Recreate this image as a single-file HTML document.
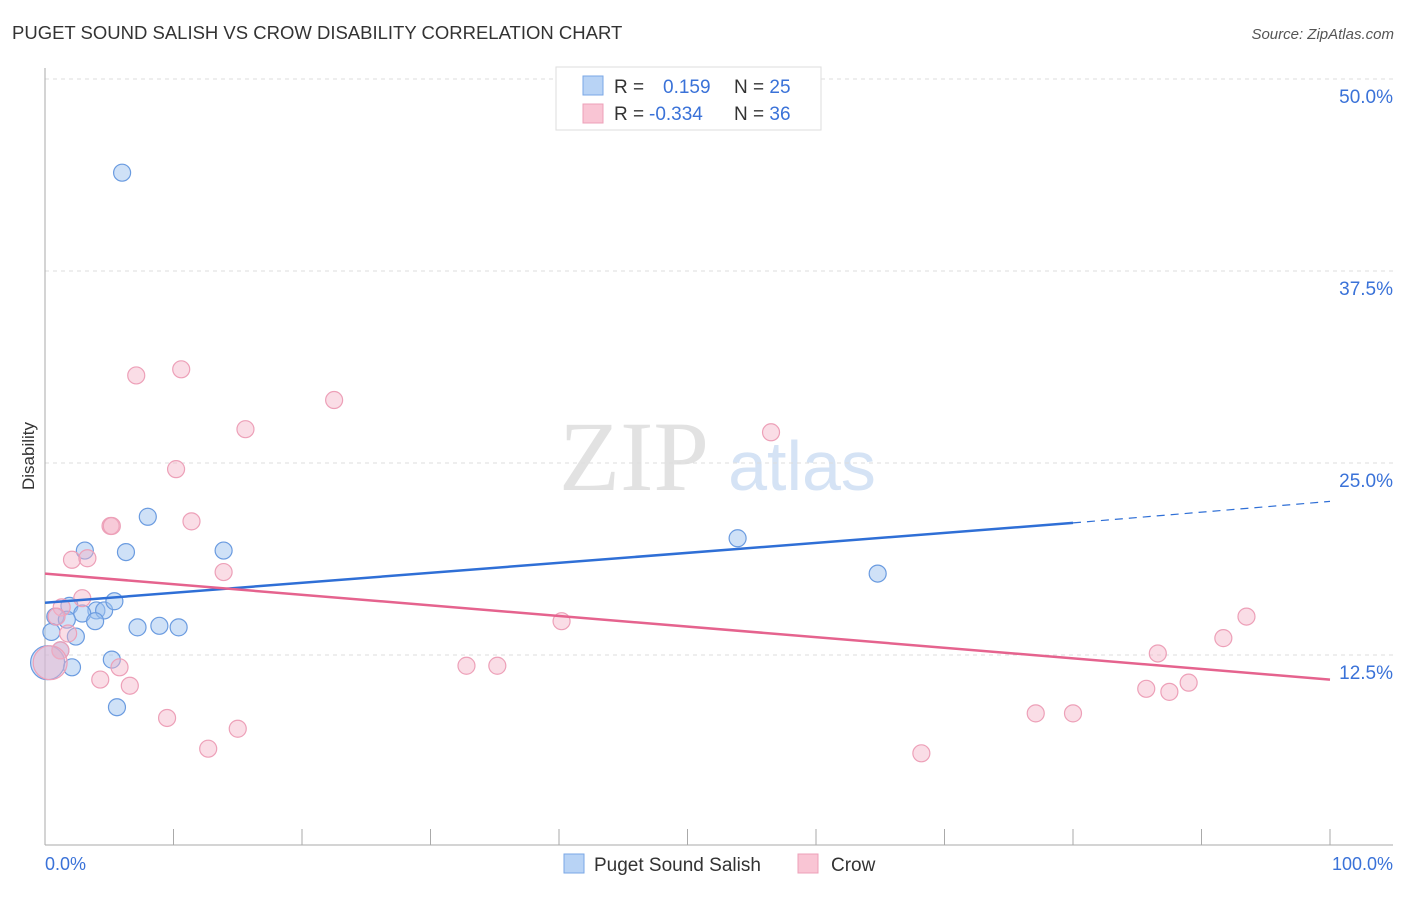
<!DOCTYPE html>
<html><head><meta charset="utf-8"><style>
body{margin:0;background:#fff;font-family:"Liberation Sans",sans-serif}
svg text{font-family:"Liberation Sans",sans-serif}
</style></head><body>
<svg id="c" width="1406" height="892">
<text x="12" y="39" font-size="18.5" fill="#333">PUGET SOUND SALISH VS CROW DISABILITY CORRELATION CHART</text>
<text x="1394" y="39" font-size="15" fill="#555" text-anchor="end" font-style="italic">Source: ZipAtlas.com</text>
<text x="34" y="456" font-size="17" fill="#333" text-anchor="middle" transform="rotate(-90 34 456)">Disability</text>
<text x="634" y="490" font-size="100" fill="#e2e2e2" text-anchor="middle" style="font-family:'Liberation Serif',serif">ZIP</text>
<text x="802" y="490" font-size="70" fill="#d5e3f5" text-anchor="middle">atlas</text>
<g id="grid"></g><g id="pts"></g><g id="lines"></g>
<g>
<rect x="556" y="67" width="265" height="63" fill="#fff" stroke="#ddd"/>
<rect x="583" y="76" width="20" height="19" fill="#b8d3f5" stroke="#7aa7e6"/>
<rect x="583" y="104" width="20" height="19" fill="#f9c5d4" stroke="#eda0b8"/>
<text x="614" y="93" font-size="19" fill="#333">R = <tspan fill="#3a72d8" x="663">0.159</tspan><tspan fill="#333" x="734">N = </tspan><tspan fill="#3a72d8">25</tspan></text>
<text x="614" y="120" font-size="19" fill="#333">R = <tspan fill="#3a72d8" x="649">-0.334</tspan><tspan fill="#333" x="734">N = </tspan><tspan fill="#3a72d8">36</tspan></text>
</g>
<g>
<rect x="564" y="854" width="20" height="19" fill="#b8d3f5" stroke="#7aa7e6"/>
<text x="594" y="871" font-size="19" fill="#333">Puget Sound Salish</text>
<rect x="798" y="854" width="20" height="19" fill="#f9c5d4" stroke="#eda0b8"/>
<text x="831" y="871" font-size="19" fill="#333">Crow</text>
</g>
<text x="45" y="870" font-size="18" fill="#3a72d8">0.0%</text>
<text x="1393" y="870" font-size="18" fill="#3a72d8" text-anchor="end">100.0%</text>
</svg>
<script>
const yTicks=[12.5,25,37.5,50];
const yTickLabels=["12.5%","25.0%","37.5%","50.0%"];
const blueX=[6.0,8.0,3.1,6.3,13.9,53.9,64.8,1.9,4.0,4.6,5.4,2.9,0.8,1.7,3.9,7.2,8.9,10.4,0.5,2.4,1.2,5.2,2.1,0.2,5.6];
const blueY=[43.9,21.5,19.3,19.2,19.3,20.1,17.8,15.7,15.4,15.4,16.0,15.2,15.0,14.8,14.7,14.3,14.4,14.3,14.0,13.7,12.8,12.2,11.7,12.0,9.1];
const pinkX=[7.1,10.6,22.5,15.6,56.5,10.2,5.1,5.2,11.4,2.1,3.3,13.9,2.9,1.3,0.9,40.2,93.5,91.7,86.6,1.2,5.8,32.8,35.2,4.3,6.6,85.7,87.5,89.0,9.5,15.0,12.7,77.1,80.0,68.2,0.4,1.8];
const pinkY=[30.7,31.1,29.1,27.2,27.0,24.6,20.9,20.9,21.2,18.7,18.8,17.9,16.2,15.6,15.0,14.7,15.0,13.6,12.6,12.8,11.7,11.8,11.8,10.9,10.5,10.3,10.1,10.7,8.4,7.7,6.4,8.7,8.7,6.1,12.0,13.9];
const blueTrend=[15.9,21.1,22.5]; // at x=0, 80, 100
const pinkTrend=[17.8,10.9]; // at x=0, 100
const NS="http://www.w3.org/2000/svg";
const X=v=>45+v*12.85, Y=v=>847-v*15.36;
function mk(t,a,p){const e=document.createElementNS(NS,t);for(const k in a)e.setAttribute(k,a[k]);document.getElementById(p).appendChild(e);return e;}
yTicks.forEach((t,i)=>{
 const l=mk('line',{x1:45,x2:1393,y1:Y(t),y2:Y(t),stroke:'#ddd','stroke-dasharray':'4,4'},'grid');
 
 
 const tx=mk('text',{x:1393,y:Y(t)+24,'font-size':19,fill:'#3a72d8','text-anchor':'end'},'grid');
 tx.textContent=yTickLabels[i];
 
 
});
const ax=mk('line',{x1:45,x2:45,y1:68,y2:845,stroke:'#aaa'},'grid');


const bx=mk('line',{x1:45,x2:1393,y1:845,y2:845,stroke:'#aaa'},'grid');


for(let i=0;i<=10;i++){
 const t=mk('line',{x1:X(i*10),x2:X(i*10),y1:829,y2:845,stroke:'#aaa'},'grid');
 
 
}
function dots(xs,ys,fill,stroke,name){
 xs.forEach((x,i)=>{
  const r=(x<0.5&&ys[i]>11.5&&ys[i]<12.5)?17:8.5;
  const c=mk('circle',{cx:X(x),cy:Y(ys[i]),r:r,fill:fill,stroke:stroke,'stroke-width':1.2},'pts');
  
  
 });
}
dots(blueX,blueY,'rgba(160,195,240,0.5)','#6a9be0','puget-point');
dots(pinkX,pinkY,'rgba(245,180,200,0.45)','#eda0b8','crow-point');
const b1=mk('line',{x1:X(0),y1:Y(blueTrend[0]),x2:X(80),y2:Y(blueTrend[1]),stroke:'#2f6fd6','stroke-width':2.5},'lines');


const b2=mk('line',{x1:X(80),y1:Y(blueTrend[1]),x2:X(100),y2:Y(blueTrend[2]),stroke:'#2f6fd6','stroke-width':1.2,'stroke-dasharray':'8,6'},'lines');


const p1=mk('line',{x1:X(0),y1:Y(pinkTrend[0]),x2:X(100),y2:Y(pinkTrend[1]),stroke:'#e5638e','stroke-width':2.5},'lines');


</script>
</body></html>
